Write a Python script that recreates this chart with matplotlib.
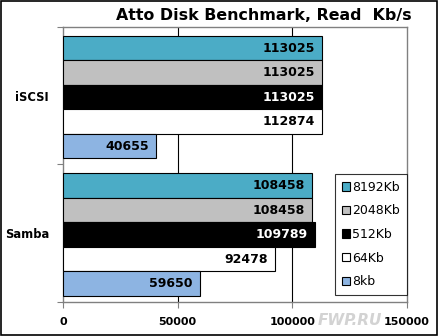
import numpy as np
import matplotlib.pyplot as plt
from matplotlib.patches import Rectangle

# Data
categories = ['Samba', 'iSCSI']
series_names = ['8192Kb', '2048Kb', '512Kb', '64Kb', '8kb']
samba_vals = [108458, 108458, 109789, 92478, 59650]
iscsi_vals = [113025, 113025, 113025, 112874, 40655]
colors = ['#4bacc6', '#c0c0c0', '#000000', '#ffffff', '#8db4e2']
text_colors = ['#000000', '#000000', '#ffffff', '#000000', '#000000']
xticks = [0, 50000, 100000, 150000]

fig = plt.figure(figsize=(4.39, 3.36), dpi=100)
fig.patch.set_facecolor('white')
# black outer frame
fig.patches.append(Rectangle((0.002, 0.004), 0.994, 0.993, transform=fig.transFigure,
                             fill=False, edgecolor='black', linewidth=1.2))

ax = fig.add_axes([0.1435, 0.1012, 0.7836, 0.8185])

h = 0.178
y_base = np.arange(len(categories))
for i, name in enumerate(series_names):
    vals = [samba_vals[i], iscsi_vals[i]]
    ys = y_base + (2 - i) * h - 0.01
    ax.barh(ys, vals, height=h, color=colors[i], edgecolor='black', linewidth=0.8,
            label=name, zorder=3)
    for y, v in zip(ys, vals):
        ax.text(v - 3000, y, str(v), ha='right', va='center', fontsize=9,
                fontweight='bold', color=text_colors[i], zorder=4)

ax.set_xlim(0, 150000)
ax.set_ylim(-0.5, 1.5)
ax.set_xticks(xticks)
ax.set_xticklabels([str(t) for t in xticks], fontsize=8, fontweight='bold')
ax.tick_params(axis='x', length=4, color='#808080', pad=7)
ax.set_yticks([-0.5, 0.5, 1.5])
ax.set_yticklabels([])
ax.set_yticks(y_base, minor=True)
ax.set_yticklabels(categories, minor=True, fontsize=8.3, fontweight='bold')
ax.tick_params(axis='y', which='major', length=4, color='#808080')
ax.tick_params(axis='y', which='minor', length=0, pad=10)

for x in xticks[1:3]:
    ax.axvline(x, color='black', linewidth=0.8, zorder=1)
for s in ax.spines.values():
    s.set_color('#808080')
    s.set_linewidth(1)

leg = ax.legend(loc='lower right', bbox_to_anchor=(1.0, 0.025), fontsize=9,
                frameon=True, fancybox=False, handlelength=0.65, handleheight=0.65,
                handletextpad=0.2, labelspacing=0.85, borderpad=0.55,
                borderaxespad=0.0)
leg.get_frame().set_edgecolor('black')
leg.get_frame().set_linewidth(0.8)
leg.set_zorder(5)

fig.text(0.60, 0.955, 'Atto Disk Benchmark, Read  Kb/s', ha='center', va='center',
         fontsize=11.4, fontweight='bold')

# watermark
fig.text(0.797, 0.045, 'FWP.RU', ha='center', va='center', fontsize=11,
         fontstyle='italic', fontweight='bold', color='#c8c8c8', alpha=0.8)

fig.savefig('out.png', dpi=100)
